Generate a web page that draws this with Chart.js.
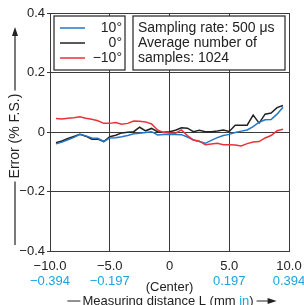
<!DOCTYPE html>
<html>
<head>
<meta charset="utf-8">
<script src="https://cdn.jsdelivr.net/npm/chart.js@4/dist/chart.umd.min.js"></script>
<style>
  html, body { margin: 0; padding: 0; background: #fff; }
  #wrap { width: 304px; height: 305px; }
</style>
</head>
<body>
<div id="wrap"><canvas id="errChart"></canvas></div>
<script>
// measuring distance (mm)
const distance = [-9.5, -9.0, -8.5, -8.0, -7.5, -7.0, -6.5, -6.0, -5.5, -5.0,
                  -4.5, -4.0, -3.5, -3.0, -2.5, -2.0, -1.5, -1.0, -0.5, 0,
                  0.5, 1.0, 1.5, 2.0, 2.5, 3.0, 3.5, 4.0, 4.5, 5.0,
                  5.5, 6.0, 6.5, 7.0, 7.5, 8.0, 8.5, 9.0, 9.5];

const err10 = [-0.040, -0.034, -0.026, -0.018, -0.008, -0.013, -0.020, -0.021, -0.032, -0.020,
               -0.019, -0.016, -0.012, -0.006, -0.004, -0.002, 0.001, -0.010, -0.008, -0.008,
               -0.008, -0.009, -0.017, -0.027, -0.032, -0.038, -0.028, -0.019, -0.012, -0.008,
               -0.002, 0.003, 0.007, 0.018, 0.033, 0.041, 0.042, 0.060, 0.083];

const err0 = [-0.036, -0.030, -0.022, -0.015, -0.008, -0.014, -0.024, -0.024, -0.032, -0.016,
              -0.011, -0.003, -0.001, 0.001, 0.016, 0.004, 0.012, 0.001, -0.001, 0.001,
              0.006, 0.014, 0.013, 0.001, 0.006, 0.001, 0.001, 0.003, 0.007, 0.002,
              0.023, 0.023, 0.023, 0.057, 0.030, 0.060, 0.064, 0.082, 0.089];

const errM10 = [0.045, 0.044, 0.046, 0.048, 0.051, 0.046, 0.043, 0.038, 0.029, 0.029,
                0.032, 0.026, 0.029, 0.037, 0.036, 0.034, 0.027, 0.007, -0.002, -0.003,
                -0.004, 0.007, -0.012, -0.027, -0.031, -0.043, -0.040, -0.038, -0.043, -0.043,
                -0.044, -0.047, -0.039, -0.034, -0.032, -0.020, -0.012, 0.004, 0.009];

const seriesLabels = ['10°', '0°', '\u221210°'];
const seriesColors = ['#2278c8', '#222222', '#e8333a'];

const xTicks = [-10, -5, 0, 5, 10];
const xTickMm = ['\u221210.0', '\u22125.0', '0', '5.0', '10.0'];
const xTickIn = ['\u22120.394', '\u22120.197', '', '0.197', '0.394'];
const yTicks = [-0.4, -0.2, 0, 0.2, 0.4];
const yTickText = ['\u22120.4', '\u22120.2', '0', '0.2', '0.4'];

const noteLines = ['Sampling rate: 500 \u03bcs', 'Average number of', 'samples: 1024'];

const FONT = "'Liberation Sans', Arial, sans-serif";
const inColor = '#1fa3e0';
const gridColor = '#3a3a3a';

const toPts = ys => distance.map((x, i) => ({ x, y: ys[i] }));

const extras = {
    id: 'extras',
    afterDraw(chart) {
        const ctx = chart.ctx;
        const xs = chart.scales.x;
        const ys = chart.scales.y;
        const L = xs.left, R = xs.right, T = ys.top;
        ctx.save();

        // legend boxes
        ctx.fillStyle = '#fff';
        ctx.strokeStyle = '#333';
        ctx.lineWidth = 1.3;
        ctx.fillRect(L + 4, T + 3, 71, 54);
        ctx.strokeRect(L + 4, T + 3, 71, 54);
        ctx.fillRect(L + 83, T + 3, R - L - 87, 54);
        ctx.strokeRect(L + 83, T + 3, R - L - 87, 54);

        ctx.font = '14px ' + FONT;
        ctx.textBaseline = 'middle';
        [0, 1, 2].forEach((k, i) => {
            const y = T + 15 + i * 15;
            ctx.strokeStyle = seriesColors[k];
            ctx.lineWidth = 1.5;
            ctx.beginPath();
            ctx.moveTo(L + 10, y);
            ctx.lineTo(L + 35, y);
            ctx.stroke();
            ctx.fillStyle = '#222';
            ctx.textAlign = 'right';
            ctx.fillText(seriesLabels[k], L + 72, y);
        });
        ctx.textAlign = 'left';
        noteLines.forEach((t, i) => ctx.fillText(t, L + 88, T + 15 + i * 15));

        // inch tick labels and center note
        ctx.font = '13px ' + FONT;
        ctx.textAlign = 'center';
        xTicks.forEach((v, i) => {
            if (!xTickIn[i]) return;
            ctx.fillStyle = inColor;
            ctx.fillText(xTickIn[i], xs.getPixelForValue(v), 281);
        });
        ctx.fillStyle = '#222';
        ctx.fillText('(Center)', xs.getPixelForValue(0), 287);

        // x axis title
        ctx.textAlign = 'left';
        const p1 = 'Measuring distance L (mm ';
        const p2 = 'in';
        const p3 = ')';
        const w1 = ctx.measureText(p1).width;
        const w2 = ctx.measureText(p2).width;
        const w3 = ctx.measureText(p3).width;
        const tw = w1 + w2 + w3;
        const cx = 168, ty = 301;
        const sx = cx - tw / 2;
        ctx.fillStyle = '#222';
        ctx.fillText(p1, sx, ty);
        ctx.fillStyle = inColor;
        ctx.fillText(p2, sx + w1, ty);
        ctx.fillStyle = '#222';
        ctx.fillText(p3, sx + w1 + w2, ty);
        ctx.strokeStyle = '#222';
        ctx.lineWidth = 1.2;
        ctx.beginPath();
        ctx.moveTo(sx - 15, ty); ctx.lineTo(sx - 2, ty);
        ctx.moveTo(sx + tw + 3, ty); ctx.lineTo(sx + tw + 16, ty);
        ctx.stroke();
        ctx.beginPath();
        ctx.moveTo(sx + tw + 23, ty);
        ctx.lineTo(sx + tw + 14, ty - 3);
        ctx.lineTo(sx + tw + 14, ty + 3);
        ctx.closePath();
        ctx.fill();

        // y axis title
        ctx.font = '14px ' + FONT;
        const yt = 'Error (% F.S.)';
        const yw = ctx.measureText(yt).width;
        const yc = 136, xc = 15;
        ctx.save();
        ctx.translate(xc, yc);
        ctx.rotate(-Math.PI / 2);
        ctx.textAlign = 'center';
        ctx.fillText(yt, 0, 0);
        ctx.restore();
        ctx.beginPath();
        ctx.moveTo(xc, 245); ctx.lineTo(xc, yc + yw / 2 + 3);
        ctx.moveTo(xc, yc - yw / 2 - 3); ctx.lineTo(xc, 34);
        ctx.stroke();
        ctx.beginPath();
        ctx.moveTo(xc, 27);
        ctx.lineTo(xc - 3, 36);
        ctx.lineTo(xc + 3, 36);
        ctx.closePath();
        ctx.fill();

        ctx.restore();
    }
};

new Chart(document.getElementById('errChart'), {
    type: 'line',
    data: {
        datasets: [
            { label: seriesLabels[2], data: toPts(errM10), borderColor: seriesColors[2] },
            { label: seriesLabels[0], data: toPts(err10), borderColor: seriesColors[0] },
            { label: seriesLabels[1], data: toPts(err0), borderColor: seriesColors[1] }
        ]
    },
    options: {
        responsive: true,
        maintainAspectRatio: false,
        animation: false,
        layout: { padding: { left: 0, top: 13, right: 15, bottom: 0 } },
        elements: {
            point: { radius: 0 },
            line: { borderWidth: 1.5, tension: 0 }
        },
        plugins: {
            legend: { display: false },
            tooltip: { enabled: false }
        },
        scales: {
            x: {
                type: 'linear',
                min: -10,
                max: 10,
                afterBuildTicks: s => { s.ticks = xTicks.map(v => ({ value: v })); },
                afterFit: s => { s.height = 54; s.paddingLeft = 0; s.paddingRight = 0; },
                ticks: {
                    padding: 8,
                    color: '#222',
                    font: { size: 13, family: FONT },
                    callback: v => xTickMm[xTicks.indexOf(v)]
                },
                grid: { color: gridColor, lineWidth: 1, drawTicks: false },
                border: { color: gridColor, width: 1 }
            },
            y: {
                min: -0.4,
                max: 0.4,
                afterBuildTicks: s => { s.ticks = yTicks.map(v => ({ value: v })); },
                afterFit: s => { s.width = 50; s.paddingTop = 0; s.paddingBottom = 0; },
                ticks: {
                    padding: 2,
                    color: '#222',
                    font: { size: 13, family: FONT },
                    callback: (v, i) => yTickText[i]
                },
                grid: { color: gridColor, lineWidth: 1, tickLength: 3 },
                border: { color: gridColor, width: 1 }
            }
        }
    },
    plugins: [extras]
});
</script>
</body>
</html>
